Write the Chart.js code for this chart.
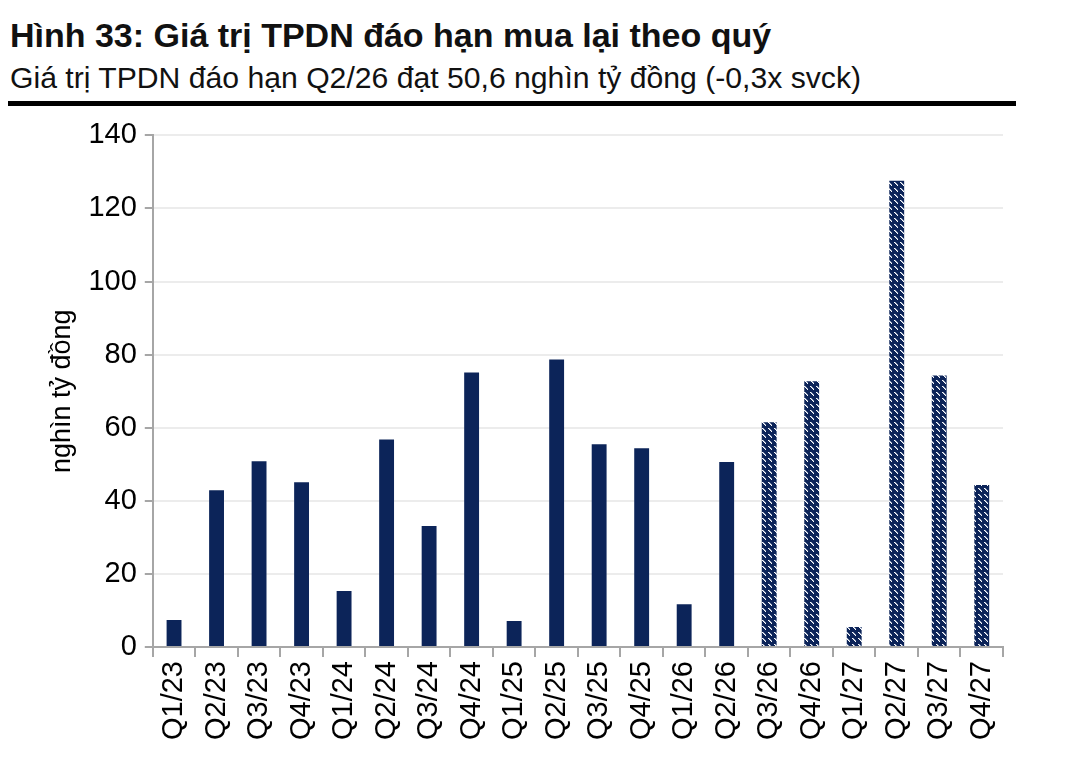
<!DOCTYPE html>
<html lang="vi">
<head>
  <meta charset="UTF-8">
  <title>Hình 33</title>
  <style>
    body { margin: 0; background: #fff; font-family: "Liberation Sans", Arial, sans-serif; width: 1069px; height: 768px; overflow: hidden; position: relative; }
    h1 { position: absolute; left: 10px; top: 17px; margin: 0; font-size: 33px; line-height: 38px; font-weight: bold; color: #111; transform: scaleX(1.03); transform-origin: left; }
    .sub { position: absolute; left: 10px; top: 61px; font-size: 29px; line-height: 34px; color: #111; transform: scaleX(1.04); transform-origin: left; }
    .rule { position: absolute; left: 8px; top: 101px; width: 1008px; height: 5px; background: #000; }
    #wrap { position: absolute; left: 0; top: 110px; width: 1069px; height: 658px; }
  </style>
  <script src="https://cdn.jsdelivr.net/npm/chart.js"></script>
</head>
<body>
  <h1>Hình 33: Giá trị TPDN đáo hạn mua lại theo quý</h1>
  <div class="sub">Giá trị TPDN đáo hạn Q2/26 đạt 50,6 nghìn tỷ đồng (-0,3x svck)</div>
  <div class="rule"></div>
  <div id="wrap"><canvas id="chart"></canvas></div>

  <script>
    const quarters = ['Q1/23','Q2/23','Q3/23','Q4/23','Q1/24','Q2/24','Q3/24','Q4/24','Q1/25','Q2/25',
                      'Q3/25','Q4/25','Q1/26','Q2/26','Q3/26','Q4/26','Q1/27','Q2/27','Q3/27','Q4/27'];
    const values = [7.4, 42.9, 50.8, 45.1, 15.3, 56.8, 33.1, 75.1, 7.1, 78.7,
                    55.5, 54.4, 11.7, 50.6, 61.5, 72.7, 5.5, 127.6, 74.3, 44.3];
    // từ Q3/26 trở đi là dự báo (tô sọc)
    const firstForecast = 14;

    const navy = '#0c2459';

    // tạo pattern sọc chéo
    function makeHatch() {
      const c = document.createElement('canvas');
      c.width = 6; c.height = 6;
      const g = c.getContext('2d');
      g.fillStyle = navy;
      g.fillRect(0, 0, 6, 6);
      g.fillStyle = '#ffffff';
      [[0,0],[1,1],[2,2],[3,3]].forEach(p => g.fillRect(p[0], p[1], 1, 1));
      g.fillStyle = '#8c9ab8';
      [[1,0],[2,1],[3,2]].forEach(p => g.fillRect(p[0], p[1], 1, 1));
      return g.createPattern(c, 'repeat');
    }
    const hatch = makeHatch();

    const colors = values.map((v, i) => i >= firstForecast ? hatch : navy);

    new Chart(document.getElementById('chart'), {
      type: 'bar',
      data: {
        labels: quarters,
        datasets: [{
          data: values,
          backgroundColor: colors,
          borderWidth: 0,
          barPercentage: 0.35,
          categoryPercentage: 1
        }]
      },
      options: {
        responsive: true,
        maintainAspectRatio: false,
        animation: false,
        layout: { padding: { top: 14, right: 66, left: 44, bottom: 24 } },
        plugins: { legend: { display: false }, tooltip: { enabled: false } },
        scales: {
          x: {
            grid: { offset: true, drawOnChartArea: false, color: '#a6a6a6', tickLength: 10, lineWidth: 2 },
            border: { color: '#a6a6a6', width: 2 },
            ticks: {
              color: '#000', minRotation: 90, maxRotation: 90, padding: 4,
              font: { family: '"Liberation Sans", Arial', size: 29 }
            }
          },
          y: {
            min: 0, max: 140,
            ticks: {
              stepSize: 20, color: '#000', padding: 8,
              font: { family: '"Liberation Sans", Arial', size: 29 }
            },
            grid: { color: '#ececec', lineWidth: 2, tickColor: '#a6a6a6', tickLength: 8 },
            border: { color: '#a6a6a6', width: 2 },
            title: {
              display: true, text: 'nghìn tỷ đồng', color: '#000', padding: 2,
              font: { family: '"Liberation Sans", Arial', size: 27 }
            }
          }
        }
      }
    });
  </script>
</body>
</html>
